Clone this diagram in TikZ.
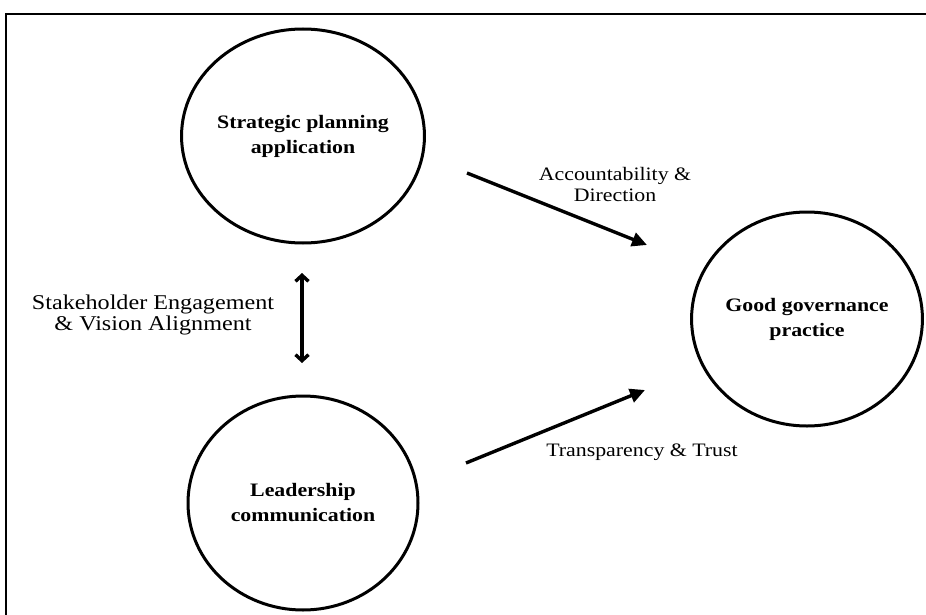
\documentclass[tikz,border=0pt]{standalone}
\usepackage{fontspec}
\setmainfont[FakeStretch=1.15]{Liberation Serif}
\usetikzlibrary{arrows.meta,shapes.geometric}

\begin{document}
\begin{tikzpicture}[x=1pt,y=-1pt,
  concept/.style={ellipse, draw, line width=3pt, minimum width=230pt,
    minimum height=214pt, inner sep=0pt, align=center,
    font=\fontsize{19}{25}\selectfont\bfseries},
  relation/.style={line width=3.4pt, arrows={-Triangle[length=15pt,width=14pt]}},
  mutual/.style={line width=3.4pt,
    arrows={Straight Barb[length=6pt,width=13pt]-Straight Barb[length=6pt,width=13pt]}},
  note/.style={align=center, inner sep=0pt, font=\fontsize{19}{21}\selectfont}
]
\useasboundingbox (0,0) rectangle (926,615);

% outer frame (open to the right and bottom)
\draw[line width=2pt] (6,615) -- (6,14) -- (926,14);

% concepts
\node[concept] (plan) at (303,136) {Strategic planning\\application};
\node[concept] (lead) at (303,503) {Leadership\\communication};
\node[concept] (good) at (807,319) {Good governance\\practice};

% arrow end points
\coordinate (a1) at (467,173);
\coordinate (a2) at (647,245);
\coordinate (b1) at (466,463);
\coordinate (b2) at (645,390);
\coordinate (c1) at (302,273);
\coordinate (c2) at (302,363);

% relations
\draw[relation] (a1) -- (a2);
\draw[relation] (b1) -- (b2);
\draw[mutual] (c1) -- (c2);

% relation labels
\node[note] (acc) at (615,185) {Accountability \&\\Direction};
\node[note] (tra) at (642,452) {Transparency \& Trust};
\node[note, font=\fontsize{21}{21}\selectfont] (sta) at (153,315)
  {Stakeholder Engagement\\\& Vision Alignment};
\end{tikzpicture}
\end{document}
